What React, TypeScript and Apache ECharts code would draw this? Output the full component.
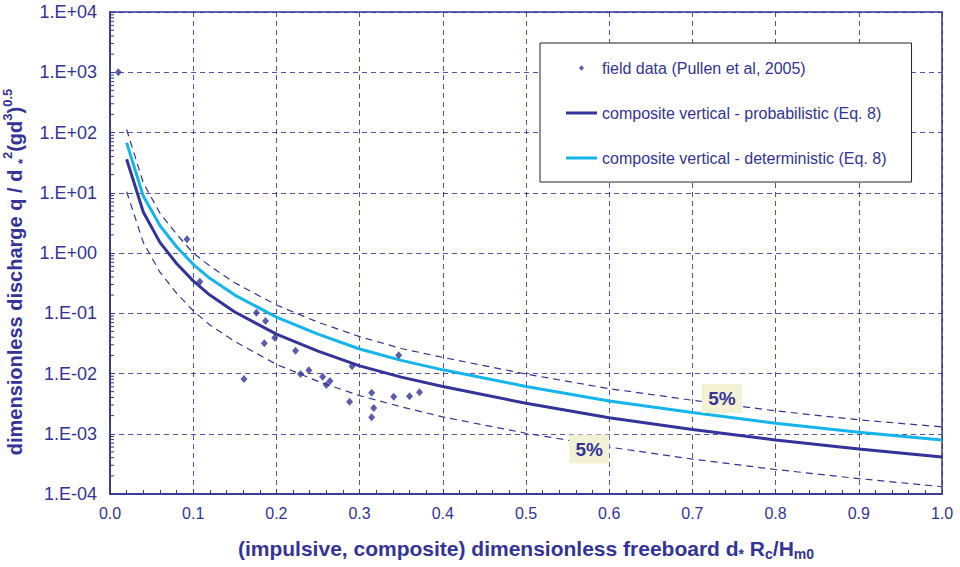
import React, { useEffect, useRef } from 'react';
import * as echarts from 'echarts';

const NAVY = '#333399';
const CYAN = '#14b4ec';
const FONT = 'Arial, "Liberation Sans", Helvetica, sans-serif';

// curve samples
const curveX = [0.02, 0.04, 0.06, 0.08, 0.1, 0.12, 0.15, 0.2, 0.25, 0.3, 0.35, 0.4, 0.5, 0.6, 0.7, 0.8, 0.9, 1.0];
const probabilistic = [36, 4.8, 1.5, 0.67, 0.345, 0.2, 0.105, 0.045, 0.0235, 0.0134, 0.0087, 0.0061, 0.0032, 0.00185, 0.00118, 0.00079, 0.00056, 0.00041];
const deterministic = [68, 8.8, 2.85, 1.27, 0.65, 0.38, 0.2, 0.086, 0.045, 0.0255, 0.0165, 0.0115, 0.0061, 0.0035, 0.00225, 0.0015, 0.00106, 0.00079];
const upper5 = [112, 14.6, 4.6, 2.05, 1.0, 0.61, 0.32, 0.137, 0.071, 0.041, 0.026, 0.0185, 0.0098, 0.0056, 0.0036, 0.0024, 0.0017, 0.0013];
const lower5 = [10.4, 1.5, 0.48, 0.215, 0.11, 0.064, 0.034, 0.0142, 0.0074, 0.0043, 0.0028, 0.0019, 0.00102, 0.0006, 0.00038, 0.000255, 0.00018, 0.000132];

// field data (Pullen et al, 2005)
const fieldX = [0.01, 0.0925, 0.108, 0.161, 0.176, 0.1855, 0.187, 0.198, 0.223, 0.229, 0.239, 0.2556, 0.26, 0.2644, 0.288, 0.291, 0.3145, 0.3145, 0.317, 0.341, 0.347, 0.36, 0.372];
const fieldY = [1000, 1.69, 0.334, 0.0081, 0.102, 0.0317, 0.0743, 0.0393, 0.0239, 0.0098, 0.0113, 0.00885, 0.00644, 0.00751, 0.0034, 0.01315, 0.0048, 0.00188, 0.00268, 0.00412, 0.02, 0.00418, 0.00488];

// "5%" annotations anchors (data coordinates)
const pctLabelX = [0.7356, 0.576];
const pctLabelY = [0.00385, 0.000558];
const pctLabelText = ['5%', '5%'];

// log-axis minor tick structure
const decadeExponents = [-4, -3, -2, -1, 0, 1, 2, 3];
const minorMultipliers = [2, 3, 4, 5, 6, 7, 8, 9];

const FIELD = 'field data (Pullen et al, 2005)';
const PROB = 'composite vertical - probabilistic (Eq. 8)';
const DET = 'composite vertical - deterministic (Eq. 8)';

const LINE_ICON = 'path://M0,0M31,14M0,5.5L31,5.5L31,8.5L0,8.5Z';
const DOT_ICON = 'path://M0,0M31,14M13,7L15.5,4.3L18,7L15.5,9.7Z';

function fmtLog(v: number): string {
  const e = Math.round(Math.log10(v));
  const s = e < 0 ? '-' : '+';
  const a = Math.abs(e);
  return '1.E' + s + (a < 10 ? '0' : '') + a;
}

export default function App() {
  const ref = useRef<HTMLDivElement>(null);
  useEffect(() => {
    document.body.style.margin = '0';
    if (!ref.current) return;
    const chart = echarts.init(ref.current, undefined, { renderer: 'svg' });
    const pair = (ys: number[]) => curveX.map((x, i) => [x, ys[i]]);
    const minorData: number[][] = [];
    decadeExponents.forEach((e) => minorMultipliers.forEach((m) => minorData.push([0, m * Math.pow(10, e)])));

    const dashed = {
      type: 'line' as const,
      symbol: 'none',
      silent: true,
      lineStyle: { color: NAVY, width: 1.2, type: [7, 5] as any },
      z: 2,
    };

    chart.setOption({
      animation: false,
      textStyle: { fontFamily: FONT },
      grid: {
        left: 110,
        right: 18,
        top: 12,
        bottom: 73,
        show: true,
        borderColor: NAVY,
        borderWidth: 1.5,
        containLabel: false,
        outerBoundsMode: 'none',
      },
      legend: {
        orient: 'vertical',
        left: 540,
        top: 43,
        padding: [17, 25, 16, 26],
        itemGap: 29,
        itemWidth: 31,
        itemHeight: 14,
        backgroundColor: '#ffffff',
        borderColor: '#222222',
        borderWidth: 1,
        textStyle: { color: NAVY, fontSize: 16, fontFamily: FONT },
        data: [
          { name: FIELD, icon: DOT_ICON },
          { name: PROB, icon: LINE_ICON },
          { name: DET, icon: LINE_ICON },
        ],
      },
      xAxis: {
        type: 'value',
        min: 0,
        max: 1,
        interval: 0.1,
        name: '(impulsive, composite) dimensionless freeboard d{s|*} R{s|c}/H{s|m0}',
        nameLocation: 'middle',
        nameGap: 41,
        nameTextStyle: {
          color: NAVY,
          fontSize: 21,
          fontWeight: 'bold',
          fontFamily: FONT,
          lineHeight: 26,
          rich: {
            s: { fontSize: 14, fontWeight: 'bold', color: NAVY, fontFamily: FONT, verticalAlign: 'bottom', lineHeight: 14 },
          },
        },
        axisLine: { show: true, onZero: false, lineStyle: { color: NAVY, width: 1.5 } },
        axisTick: { show: true, inside: true, length: 5, lineStyle: { color: NAVY } },
        minorTick: { show: true, splitNumber: 5, length: 4, lineStyle: { color: NAVY } },
        splitLine: { show: true, lineStyle: { color: NAVY, width: 1, type: [5, 4] as any, opacity: 0.85 } },
        axisLabel: { color: NAVY, fontSize: 16, margin: 11, fontFamily: FONT, formatter: (v: number) => v.toFixed(1) },
      },
      yAxis: {
        type: 'log',
        logBase: 10,
        min: 1e-4,
        max: 1e4,
        interval: 1,
        name: 'dimensionless discharge q / d {b|*}{p|2}(gd{p|3}){p|0.5}',
        nameLocation: 'middle',
        nameRotate: 90,
        nameGap: 77,
        nameTextStyle: {
          color: NAVY,
          fontSize: 20,
          fontWeight: 'bold',
          fontFamily: FONT,
          lineHeight: 28,
          padding: [0, 38, 0, 0],
          rich: {
            p: { fontSize: 13, fontWeight: 'bold', color: NAVY, fontFamily: FONT, verticalAlign: 'top', lineHeight: 13 },
            b: { fontSize: 13, fontWeight: 'bold', color: NAVY, fontFamily: FONT, verticalAlign: 'bottom', lineHeight: 16 },
          },
        },
        axisLine: { show: true, onZero: false, lineStyle: { color: NAVY, width: 1.5 } },
        axisTick: { show: true, inside: true, length: 5, lineStyle: { color: NAVY } },
        splitLine: { show: true, lineStyle: { color: NAVY, width: 1, type: [5, 4] as any, opacity: 0.85 } },
        axisLabel: { color: NAVY, fontSize: 18, margin: 13, fontFamily: FONT, formatter: fmtLog },
      },
      series: [
        { ...dashed, name: 'upper 5%', data: pair(upper5) },
        {
          ...dashed,
          name: 'lower 5%',
          data: pair(lower5),
          markPoint: {
            symbol: 'rect',
            symbolSize: [40, 29],
            z: 6,
            itemStyle: { color: '#f3f1d3' },
            label: { show: true, position: 'inside', color: NAVY, fontSize: 19, fontWeight: 'bold', fontFamily: FONT, formatter: (p: any) => p.name },
            data: pctLabelX.map((x, i) => ({ name: pctLabelText[i], coord: [x, pctLabelY[i]] })),
          },
        },
        { type: 'line', name: PROB, data: pair(probabilistic), symbol: 'none', itemStyle: { color: NAVY }, lineStyle: { color: NAVY, width: 3 }, z: 3 },
        { type: 'line', name: DET, data: pair(deterministic), symbol: 'none', itemStyle: { color: CYAN }, lineStyle: { color: CYAN, width: 3 }, z: 3 },
        {
          type: 'scatter',
          name: FIELD,
          data: fieldX.map((x, i) => [x, fieldY[i]]),
          symbol: 'diamond',
          symbolSize: [7, 8],
          itemStyle: { color: NAVY },
          z: 4,
        },
        {
          type: 'custom',
          name: 'minor ticks',
          silent: true,
          data: minorData,
          renderItem: (params: any, api: any) => {
            const p = api.coord([api.value(0), api.value(1)]);
            return {
              type: 'line',
              shape: { x1: p[0], y1: p[1], x2: p[0] + 4, y2: p[1] },
              style: { stroke: NAVY, lineWidth: 1 },
            };
          },
          z: 5,
        },
      ],
    });
    return () => chart.dispose();
  }, []);
  return <div ref={ref} style={{ width: 960, height: 567 }} />;
}
